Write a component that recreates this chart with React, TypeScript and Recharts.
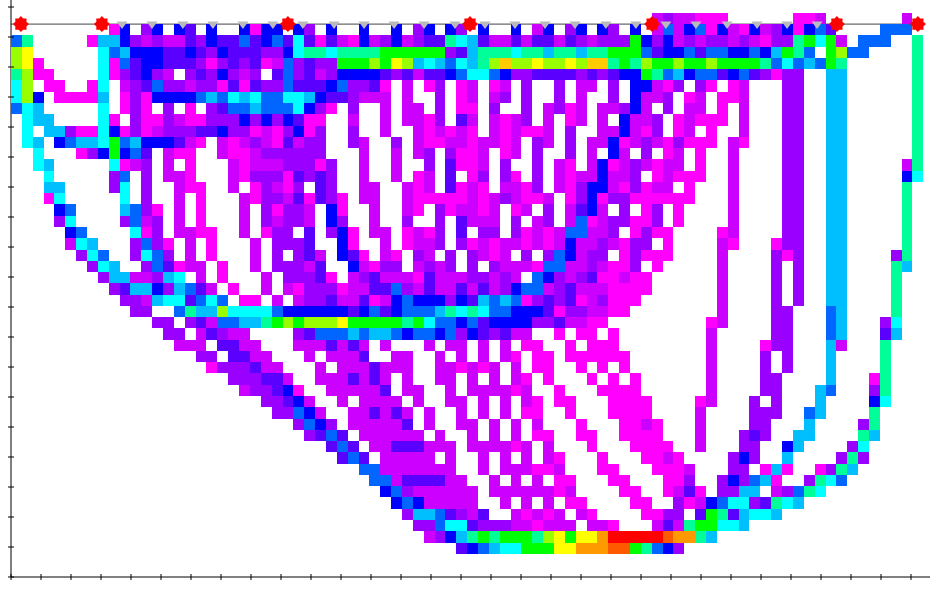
import { ScatterChart, Scatter, XAxis, YAxis, ReferenceLine } from 'recharts'

// one char per cell, '.' = no value, groups of ten columns
const gridRows = [
  '.......... .......... .......... .......... .......... .........p vppmmm.... ..mmp..... ..p.',
  '.........m b.vb.bi.b. .bmbb.bv.b ..b..b.vb. bv.b..b.pb .vb.bv.b.p apbambpmbp vbmbai.... aaa.',
  'at.....mss bvpvppivbi iaibaicimi pmbpvbpvii tcsippipii pivpvvvgbv bpvpvvpvpm vvtgcgp.aa a..t',
  'ly......ca sbbbiibivb iiivvbcttc ttttgggggg vistttctts ttsttgggai bbaiaabbab sgta.glaa. ...t',
  'lym.....cm aibbiiivmv ivimpavivv ggglgylscs acstlzllyl lylzztgtlg glgglggggt acasagt... ...t',
  'tlmm....cm vibvp.vivb vpv.iavipv bbbbivipii baccabvvii iivivibbgt asbaaibaiv mvv..ss... ...t',
  'cl.mm..mc. pviavvpvvm imivvaiiib avvim.p.mv .mp.mp.v.. v.pp.v.bbp mv.vm.mp.. .vv..ss... ...t',
  'clb.mmmms. mvmbbbbasa cscaaccsbi ivppp.p..v .mp.pv.v.. v.p..v.bpp v.mp.mmp.. .vv..ss... ...t',
  'acs.....c. mvm.v.m.vi aasaaacbvm .v..p.pp.v .mm.v..v.p vmp.ppvbp. v.pp.m.p.. .vv..ss... ...t',
  '.css....cm .vmmvpmmvv vbvbvbimm. .p..p.ppmv .ip.pmpv.p .mp.p.bppv .mpmmm.p.. .vv..ss... ...t',
  '.c.ssvmmcb mvmpvvviib vvmpmvbmv. .v..p..pmp mpm.pmpmmp .v..ppbpmv .mp.m..p.. .vv..ss... ...t',
  '.cs.basscg asbbbipm.p mpvpmipvv. .vp..v.pmm ppmppmp.vp .v.ppbmpvp mvmmm.pm.. .vv..ss... ...t',
  '..c...mvbg bai.pmm..p mmpvvvvvv. ..p..p.pv. vmmp.mp.v. .v.p.bp.v. mp.m..p... .vv..ss... ...t',
  '..cs.....c mpv.p.m... pmpppvvvmv ..p..p..v. immp.v..v. pm.pbmpvpm pp.m..p... .vv..ss... ..pt',
  '...c.....v a.v.ppm... pmvvvmiviv ..p..p.mp. i.mv.vm.v. pmppbppv.m pmmm..p... .vv..ss... ..bc',
  '...ss....v c.v..pmm.. p.mvpmv.iv ..pp..pmp. impm.ppmv. pmvbbpmvmp p.m...p... .vv..ss... ..t.',
  '...mc..... c.v..p.m.. .pmvvpimiv m.pp..pmmm mmpmpvpmmp .mvbmvvmmm mmm...p... .vv..ss... ..t.',
  '....ba.... savm.p.m.. .p.vmvvp.b m..p..pm.v mppmp.mp.v .pibp.v.mv .m....p... .vv..ss... ..t.',
  '....vc.... vapv.p.m.. .p.vpvvp.b v..p..v..v .ippp.v.pv .pampvvmmv .m....p... .vv..ss... ..t.',
  '.....ba... .cmv.ppmm. .p.mvv.i.v bm.pp.mpmv .i.vv.vmpm paappv.mvm m....mp... .vv..ss... ..t.',
  '.....pcs.. .vavm.p.m. ..p.vvvi.. bm..p.mppv .vmpmppmpm pbppvpmvv. m....pm... mvv..ss... ..t.',
  '......vca. .vcav.p.m. ..p.v.vip. bim.pm.vp. v.vpmp.v.v abpvv.mvmm m....p.... vmv..ss... .vt.',
  '.......vcs ..vaimpp.m ..p.vvvpi. .bpmvv.pvp v.v.vpppma appvpmmv.m .....p.... v.v..ss... .ts.',
  '........vs sppvsc.p.m ...p.vvvim .pvipppmip ppvvpvp.ab vpvimmpmm. .....p.... v.v..ss... .t..',
  '.........v issbvsaip. m..p.pmvvv mppiiavpip pipipvbaap vipppmmmm. .....p.... v.v..ss... .t..',
  '.......... vvpscciaca .mm.p.pvvi ppimpbabbb vbisasamvi vimpvmmm.. .....p.... v.v..ss... .t..',
  '.......... .vv..atssl ccccabbbbb bibaibaaas tctcaabbbi mvvppmm... .....p.... vv...as... .t..',
  '.......... ...vv.vipa asstglglll ygggggtgca abaibbbbvv ippmm..... ....mp.... vv...as... vc..',
  '.......... ....vv.piv pp....viaa asassabaab avbivipp.. m.mm.m.... ....p..... vv...as... is..',
  '.......... .....ppp.i ipp...pppi pip.p...p. pp.p.p.mm. .m.mmm.... ....p....m vv...sp... t...',
  '.......... .......vv. iipp...p.p ppi..pp..p .p.p.pm.mm .mmmmmm... ....p....v .v...s.... t...',
  '.......... ........mv vvipp...p. pppippp..p pmpmp.p.mm ..m.m.m... ....p....v .v...s.... t...',
  '.......... .......... vvviip..pp pipip.p..p p.p.p.pm.m ...m.m.m.. ....p....v v....s...m t...',
  '.......... .......... .pvvibm..p ppppi.pp.. p.ppppmp.. m...mmmm.. ....p....v v...sa...v t...',
  '.......... .......... ...vvibp.. p.pppp.p.. pp.p.p.pm. mm...mmmm. ...mp...v. v...s....b c...',
  '.......... .......... ....vvabp. .ppipip.p. .p.p.p.mm. .m...mmmm. ...p....vv v..as....t ....',
  '.......... .......... ......vabv .pppppi.p. .pp.p.p.p. ..m...mmpm ...p....vv ...s....vt ....',
  '.......... .......... .......via i.pppppp.p ..p.p.p.mm ..mm..mmmm ...p...viv ..ss....ts ....',
  '.......... .......... .........i ai.ppiiipp p.ppppmp.p ...m...mmm m..p...vv. .bs....vc. ....',
  '.......... .......... .......... iai.ppppp. p..p.p.p.p m...m...mm pm....vbv. .s....vtv. ....',
  '.......... .......... .......... ..aapppppp p..p.pppmm p...mm...m mmp...vv.m sm..mvts.. ....',
  '.......... .......... .......... ...aapiiii pp..p.p.p. mm...mm... mmv..vbvas m..vtca... ....',
  '.......... .......... .......... ....bavppp ppp.pppppp mp....mm.. mpim.vvss. pvatc..... ....',
  '.......... .......... .......... .....babpp ppp..p.p.p .mm....mm. .vmpbaccvi tcs....... ....',
  '.......... .......... .......... ......vssa ivpi..pmpm p.pm....mm vv.igtiscc s......... ....',
  '.......... .......... .......... .......vva ccivvvppmp pp.ppm...p iptggccs.. .......... ....',
  '.......... .......... .......... ........pv bstgtgggtl ygyyorrrrr foots..... .......... ....',
  '.......... .......... .......... .......... .ibasccggg yyoooffgta bv........ .......... ....',
]

// value (0..1) behind each code
const levels: Record<string, number> = {
  m: 0, p: 0.04, v: 0.08, i: 0.13, b: 0.2, a: 0.28, s: 0.35, c: 0.4,
  t: 0.48, g: 0.6, l: 0.72, y: 0.8, z: 0.84, o: 0.88, f: 0.93, r: 1,
}

const starX = [0.33, 3.03, 9.23, 15.3, 21.37, 27.53, 30.23]
const triangleX = [
  3.7, 4.7, 5.73, 6.73, 7.73, 8.73, 9.73, 10.77, 11.77, 12.77, 13.77, 14.8,
  15.8, 16.8, 17.8, 18.8, 19.83, 20.83, 21.83, 22.83, 23.87, 24.87, 25.87, 26.87,
]
const xTicks = Array.from({ length: 31 }, (_, i) => i)
const yTicks = Array.from({ length: 20 }, (_, i) => i)

const PX = 30 // pixels per axis unit
const CELL_W = 10.86
const CELL_H = 11.27
const TOP_BAND = 18.43 // axis value of the horizontal line

const cells: { x: number; y: number; value: number }[] = []
gridRows.forEach((row, r) => {
  row.replace(/ /g, '').split('').forEach((code, c) => {
    if (code === '.') return
    cells.push({
      x: ((c + 0.5) * CELL_W) / PX,
      y: TOP_BAND - ((r - 0.5) * CELL_H) / PX,
      value: levels[code],
    })
  })
})

const starData = starX.map((x) => ({ x, y: TOP_BAND }))
const triangleData = triangleX.map((x) => ({ x, y: TOP_BAND }))

const CellShape = (props: any) => (
  <rect
    x={props.cx - CELL_W / 2}
    y={props.cy - CELL_H / 2}
    width={CELL_W}
    height={CELL_H}
    fill={`hsl(${300 - 300 * props.payload.value}, 100%, 50%)`}
    shapeRendering="crispEdges"
  />
)

const StarShape = (props: any) => {
  const pts = []
  for (let i = 0; i < 16; i++) {
    const r = i % 2 === 0 ? 8 : 6
    const a = (i * Math.PI) / 8 - Math.PI / 2
    pts.push(`${props.cx + r * Math.cos(a)},${props.cy + r * Math.sin(a)}`)
  }
  return <polygon points={pts.join(' ')} fill="#ff0000" />
}

const TriangleShape = (props: any) => (
  <polygon
    points={`${props.cx - 5.5},${props.cy - 2.5} ${props.cx + 5.5},${props.cy - 2.5} ${props.cx},${props.cy + 5}`}
    fill="#bbbbbb"
  />
)

const XTick = (props: any) => (
  <line x1={props.x} x2={props.x} y1={props.y - 3} y2={props.y + 3} stroke="#000" />
)

const YTick = (props: any) => (
  <line x1={props.x - 3} x2={props.x + 3} y1={props.y} y2={props.y} stroke="#000" />
)

export default function App() {
  return (
    <div style={{ position: 'absolute', left: 0, top: 0, background: '#fff' }}>
      <ScatterChart
        width={930}
        height={593}
        margin={{ top: 0, right: 0, bottom: 0, left: 0 }}
      >
        <XAxis
          type="number"
          dataKey="x"
          domain={[0, 919 / PX]}
          ticks={xTicks}
          height={16}
          tickSize={0}
          tickMargin={0}
          tickLine={false}
          tick={<XTick />}
          interval={0}
          axisLine={{ stroke: '#000' }}
        />
        <YAxis
          type="number"
          dataKey="y"
          domain={[0, 577 / PX]}
          ticks={yTicks}
          width={11}
          tickSize={0}
          tickMargin={0}
          tickLine={false}
          tick={<YTick />}
          interval={0}
          axisLine={{ stroke: '#000' }}
        />
        <Scatter data={cells} shape={<CellShape />} isAnimationActive={false} />
        <ReferenceLine
          segment={[
            { x: 0, y: TOP_BAND },
            { x: 30.23, y: TOP_BAND },
          ]}
          stroke="#444444"
        />
        <Scatter data={triangleData} shape={<TriangleShape />} isAnimationActive={false} />
        <Scatter data={starData} shape={<StarShape />} isAnimationActive={false} />
      </ScatterChart>
    </div>
  )
}
